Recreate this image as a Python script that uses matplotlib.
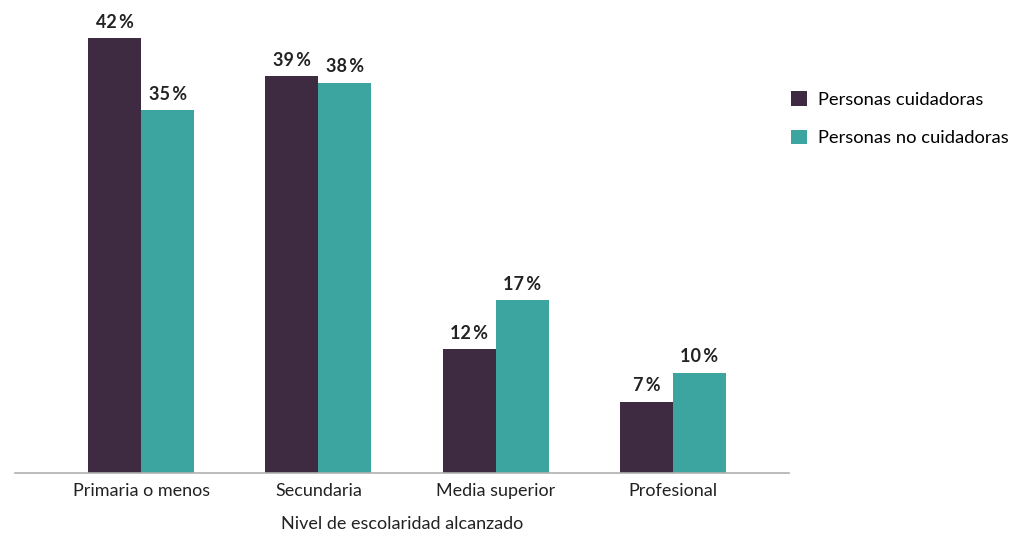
import numpy as np
import matplotlib
matplotlib.use("Agg")
import matplotlib.pyplot as plt

plt.rcParams['font.family'] = ['Lato', 'DejaVu Sans']

niveles = ["Primaria o menos", "Secundaria", "Media superior", "Profesional"]
series = ["Personas cuidadoras", "Personas no cuidadoras"]
# bar heights, labels as printed
cuidadoras = [42.0, 38.3, 12.0, 6.9]
no_cuidadoras = [35.0, 37.7, 16.7, 9.7]
etiq_cuidadoras = ["42", "39", "12", "7"]
etiq_no_cuidadoras = ["35", "38", "17", "10"]

dark = "#3e2a41"
teal = "#3ca59f"

fig = plt.figure(figsize=(10.24, 5.54), dpi=100)
ax = fig.add_axes([0.0147, 0.146, 0.7559, 0.818])

x = np.arange(len(niveles))
w = 0.299
b1 = ax.bar(x - w / 2, cuidadoras, w, color=dark, label=series[0])
b2 = ax.bar(x + w / 2, no_cuidadoras, w, color=teal, label=series[1])

for bars, labs in ((b1, etiq_cuidadoras), (b2, etiq_no_cuidadoras)):
    for r, lab in zip(bars, labs):
        ax.text(r.get_x() + r.get_width() / 2, r.get_height() + 0.7, lab + "\u2009%",
                ha="center", va="bottom", fontsize=13, fontweight="bold",
                color="#222222")

ax.set_xlim(-0.711, 3.655)
ax.set_ylim(0, 43.74)
ax.set_xticks(x)
ax.set_xticklabels(niveles, fontsize=13, color="#222222")
ax.tick_params(axis="x", length=0, pad=7)
ax.set_yticks([])
for s in ("top", "right", "left"):
    ax.spines[s].set_visible(False)
ax.spines["bottom"].set_color("#b0b0b0")
ax.spines["bottom"].set_linewidth(1.2)
ax.set_xlabel("Nivel de escolaridad alcanzado", fontsize=13, color="#222222", labelpad=12)

ax.legend(loc="upper left", bbox_to_anchor=(0.993, 0.859), frameon=False,
          fontsize=13.2, handlelength=0.85, handleheight=0.85, labelspacing=1.2,
          handletextpad=0.6, borderaxespad=0)

fig.savefig("out.png", dpi=100)
